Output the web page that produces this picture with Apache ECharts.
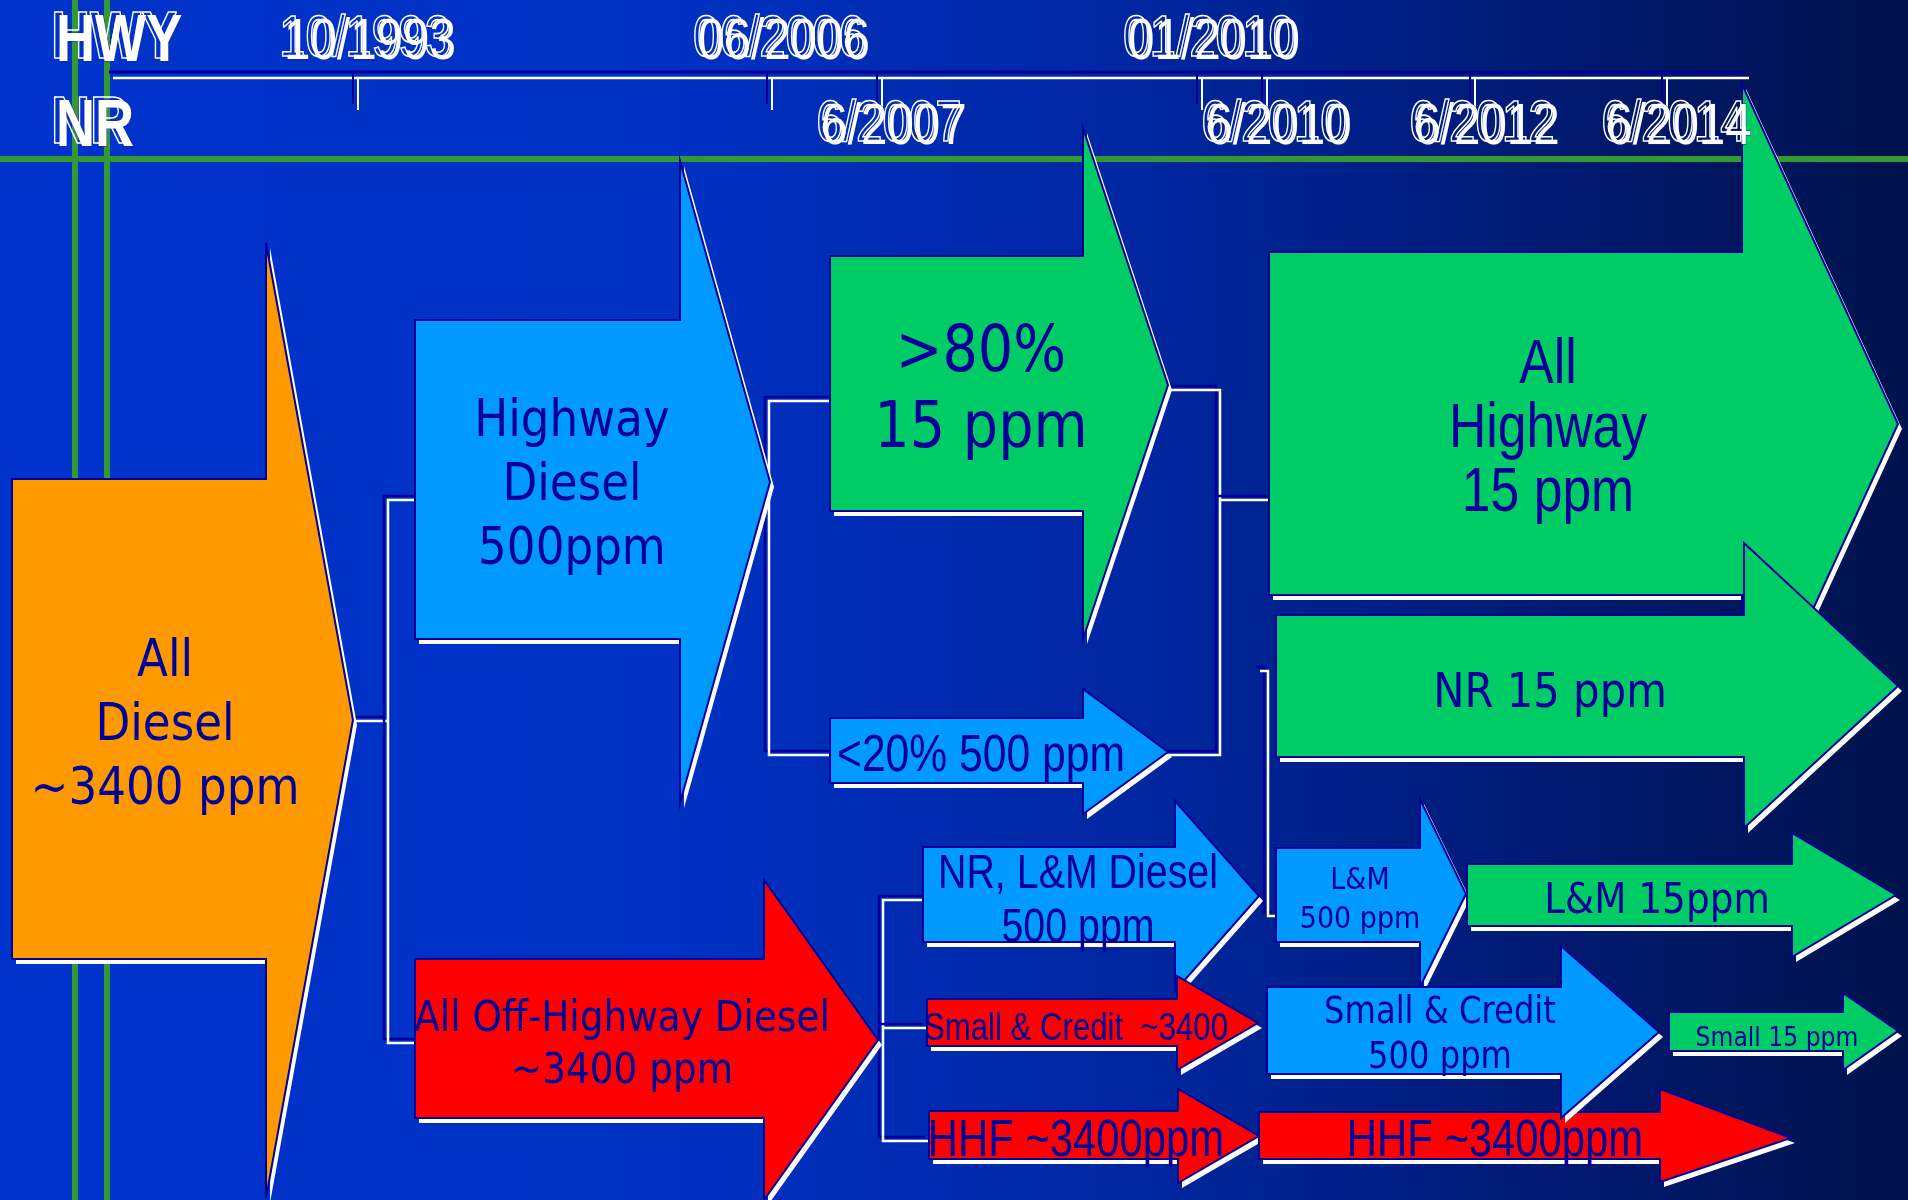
<!DOCTYPE html>
<html>
<head>
<meta charset="utf-8">
<script src="https://cdn.jsdelivr.net/npm/echarts@6/dist/echarts.min.js"></script>
<style>
  html, body { margin: 0; padding: 0; background: #0033cc; }
  #main { width: 1908px; height: 1200px; }
</style>
</head>
<body>
<div id="main"></div>
<script>
// diagram units: x runs 0..1908 left to right, y runs 0..1200 top to bottom

// timeline
const tickLabels = ['10/1993', '06/2006', '6/2007', '01/2010', '6/2010', '6/2012', '6/2014'];
const tickPos = [358, 772, 882, 1202, 1267, 1475, 1667];
const tickRow = [0, 0, 1, 0, 1, 1, 1];           // 0 = HWY row, 1 = NR row
const rowNames = ['HWY', 'NR'];
const timelineFrom = 113;
const timelineTo = 1749;

// arrows (sulfur level decides the colour)
const arrowText = [
  'All\nDiesel\n~3400 ppm',
  'Highway\nDiesel\n500ppm',
  'All Off-Highway Diesel\n~3400 ppm',
  '>80%\n15 ppm',
  '<20% 500 ppm',
  'All\nHighway\n15 ppm',
  'NR 15 ppm',
  'NR, L&M Diesel\n500 ppm',
  'L&M\n500 ppm',
  'L&M 15ppm',
  'HHF ~3400ppm',
  'HHF ~3400ppm',
  'Small & Credit  ~3400',
  'Small & Credit\n500 ppm',
  'Small 15 ppm'
];
const arrowLevel = ['all', '500', 'off', '15', '500', '15', '15', '500', '500', '15', 'off', 'off', 'off', '500', '15'];
const arrowStart = [12, 415, 415, 830, 830, 1269, 1276, 923, 1276, 1467, 929, 1259, 927, 1267, 1669];
const arrowNeck  = [266, 680, 764, 1083, 1083, 1742, 1744, 1175, 1420, 1792, 1178, 1660, 1177, 1561, 1843];
const arrowTip   = [353, 770, 878, 1168, 1168, 1898, 1898, 1259, 1466, 1896, 1259, 1791, 1258, 1659, 1898];
const bodyTop    = [479, 320, 959, 256, 718, 252, 615, 847, 848, 864, 1111, 1112, 999, 987, 1012];
const bodyBottom = [959, 639, 1118, 511, 783, 595, 757, 942, 942, 926, 1159, 1159, 1046, 1074, 1051];
const headTop    = [243, 161, 880, 128, 689, 84, 543, 801, 799, 833, 1089, 1089, 976, 946, 993];
const headBottom = [1198, 803, 1200, 639, 814, 764, 828, 991, 987, 957, 1183, 1182, 1070, 1118, 1070];
const tipY       = [720, 482, 1040, 385, 752, 424, 686, 896, 894, 895, 1136, 1138, 1023, 1032, 1031];

// bracket connectors between arrows
const connectors = [
  [[353, 721], [388, 721]],
  [[419, 500], [388, 500], [388, 1043], [419, 1043]],
  [[834, 401], [769, 401], [769, 755], [834, 755]],
  [[1168, 390], [1220, 390], [1220, 755], [1168, 755]],
  [[1220, 500], [1271, 500]],
  [[1260, 671], [1268, 671], [1268, 916], [1276, 916]],
  [[928, 900], [883, 900], [883, 1141], [929, 1141]],
  [[883, 1028], [927, 1028]]
];

// green guide lines
const guideVertical = [75, 107];
const guideHorizontal = [159];

// ---- styles ----
const levelColor = { all: '#ff9900', '500': '#0099ff', '15': '#00cc66', off: '#ff0000' };
const faces = {
  wide: { family: '"DejaVu Sans"', scale: 0.87 },
  narrow: { family: '"Liberation Sans"', scale: 0.82 }
};
const labelLayout = [
  { x: 165, y: 726, size: 52, lh: 64, face: 'wide' },
  { x: 572, y: 486, size: 52, lh: 64, face: 'wide' },
  { x: 622, y: 1046, size: 43, lh: 52, face: 'wide' },
  { x: 981, y: 392, size: 64, lh: 76, face: 'wide' },
  { x: 981, y: 757, size: 52, lh: 60, face: 'narrow' },
  { x: 1548, y: 430, size: 63, lh: 64, face: 'narrow' },
  { x: 1550, y: 695, size: 48, lh: 56, face: 'wide' },
  { x: 1078, y: 902, size: 48, lh: 54, face: 'narrow' },
  { x: 1360, y: 900, size: 31, lh: 39, face: 'wide' },
  { x: 1657, y: 902, size: 43, lh: 50, face: 'wide' },
  { x: 1076, y: 1142, size: 51, lh: 56, face: 'narrow' },
  { x: 1495, y: 1142, size: 51, lh: 56, face: 'narrow' },
  { x: 1076, y: 1030, size: 38, lh: 44, face: 'narrow' },
  { x: 1440, y: 1036, size: 37, lh: 45, face: 'wide' },
  { x: 1777, y: 1039, size: 27, lh: 32, face: 'wide' }
];
const drawOrder = [0, 1, 2, 3, 4, 5, 6, 7, 8, 9, 10, 11, 12, 13, 14];
const textColor = '#000099';
const edgeColor = '#000099';
const green = '#339933';

const chart = echarts.init(document.getElementById('main'));

function guideItem(params, api) {
  const i = params.dataIndex;
  let a, b;
  if (i < guideVertical.length) {
    a = api.coord([guideVertical[i], 0]);
    b = api.coord([guideVertical[i], 1200]);
  } else {
    const y = guideHorizontal[i - guideVertical.length];
    a = api.coord([0, y]);
    b = api.coord([1908, y]);
  }
  return { type: 'line', shape: { x1: a[0], y1: a[1], x2: b[0], y2: b[1] }, style: { stroke: green, lineWidth: 6 } };
}

function timelineItem(params, api) {
  const l0 = api.coord([timelineFrom, 78]);
  const l1 = api.coord([timelineTo, 78]);
  const children = [
    { type: 'line', shape: { x1: l0[0] - 4, y1: l0[1] - 6, x2: l1[0] - 6, y2: l1[1] - 6 }, style: { stroke: '#000099', lineWidth: 3 } },
    { type: 'line', shape: { x1: l0[0], y1: l0[1], x2: l1[0], y2: l1[1] }, style: { stroke: '#ffffff', lineWidth: 2.5 } }
  ];
  tickPos.forEach(function (t) {
    const a = api.coord([t, 78]);
    const b = api.coord([t, 110]);
    children.push({ type: 'line', shape: { x1: a[0] - 5, y1: a[1] - 6, x2: b[0] - 5, y2: b[1] - 6 }, style: { stroke: '#000099', lineWidth: 2 } });
    children.push({ type: 'line', shape: { x1: a[0], y1: a[1], x2: b[0], y2: b[1] }, style: { stroke: '#ffffff', lineWidth: 2 } });
  });
  return { type: 'group', children: children };
}

function headingText(str, p, size, bold, align) {
  const font = (bold ? 'bold ' : '') + size + 'px "Liberation Sans"';
  return [
    { type: 'text', x: p[0], y: p[1], scaleX: 0.82,
      style: { text: str, font: font, fill: '#ffffff', stroke: '#0a2aa8', lineWidth: 1, align: align, verticalAlign: 'middle' } },
    { type: 'text', x: p[0] - 5, y: p[1] - 3, scaleX: 0.82,
      style: { text: str, font: font, fill: 'rgba(0,0,0,0)', stroke: '#ffffff', lineWidth: 1.6, align: align, verticalAlign: 'middle' } }
  ];
}

function headingItem(params, api) {
  let children = [];
  rowNames.forEach(function (name, r) {
    const p = api.coord([56, r === 0 ? 43 : 128]);
    children = children.concat(headingText(name, p, 66, true, 'left'));
  });
  tickLabels.forEach(function (lab, i) {
    const p = api.coord([tickPos[i] + 12, tickRow[i] === 0 ? 43 : 128]);
    children = children.concat(headingText(lab, p, 58, false, 'center'));
  });
  return { type: 'group', children: children };
}

function connectorItem(params, api) {
  const pts = connectors[params.dataIndex].map(function (q) { return api.coord(q); });
  const shadow = pts.map(function (p) { return [p[0] - 4, p[1] - 4]; });
  return {
    type: 'group',
    children: [
      { type: 'polyline', shape: { points: shadow }, style: { stroke: '#000099', lineWidth: 2.5, fill: null } },
      { type: 'polyline', shape: { points: pts }, style: { stroke: '#ffffff', lineWidth: 2.5, fill: null } }
    ]
  };
}

function arrowItem(params, api) {
  const i = drawOrder[params.dataIndex];
  const corners = [
    [arrowStart[i], bodyTop[i]], [arrowNeck[i], bodyTop[i]], [arrowNeck[i], headTop[i]],
    [arrowTip[i], tipY[i]],
    [arrowNeck[i], headBottom[i]], [arrowNeck[i], bodyBottom[i]], [arrowStart[i], bodyBottom[i]]
  ];
  const pts = corners.map(function (q) { return api.coord(q); });
  const shadow = pts.map(function (p) { return [p[0] + 4, p[1] + 5]; });
  return {
    type: 'group',
    children: [
      { type: 'polygon', shape: { points: shadow }, style: { fill: '#ffffff' } },
      { type: 'polygon', shape: { points: pts }, style: { fill: levelColor[arrowLevel[i]], stroke: edgeColor, lineWidth: 2 } }
    ]
  };
}

function labelItem(params, api) {
  const i = params.dataIndex;
  const L = labelLayout[i];
  const f = faces[L.face];
  const p = api.coord([L.x, L.y]);
  return {
    type: 'text', x: p[0], y: p[1], scaleX: f.scale,
    style: {
      text: arrowText[i], font: L.size + 'px ' + f.family, lineHeight: L.lh,
      fill: textColor, align: 'center', verticalAlign: 'middle'
    }
  };
}

const option = {
  animation: false,
  backgroundColor: {
    type: 'linear', x: 0, y: 0, x2: 1, y2: 0,
    colorStops: [
      { offset: 0, color: '#0033cc' },
      { offset: 0.35, color: '#0031c4' },
      { offset: 0.6, color: '#0026a0' },
      { offset: 0.85, color: '#00186a' },
      { offset: 1, color: '#00124c' }
    ]
  },
  grid: { left: 0, right: 0, top: 0, bottom: 0 },
  xAxis: { type: 'value', min: 0, max: 1908, show: false },
  yAxis: { type: 'value', min: 0, max: 1200, inverse: true, show: false },
  series: [
    { type: 'custom', renderItem: guideItem, data: guideVertical.concat(guideHorizontal).map(function (v) { return [v]; }), silent: true },
    { type: 'custom', renderItem: timelineItem, data: [[0]], silent: true },
    { type: 'custom', renderItem: connectorItem, data: connectors.map(function (c, i) { return [i]; }), silent: true },
    { type: 'custom', renderItem: arrowItem, data: drawOrder.map(function (i) { return [arrowStart[i], arrowTip[i]]; }), silent: true },
    { type: 'custom', renderItem: labelItem, data: arrowText.map(function (t, i) { return [i]; }), silent: true },
    { type: 'custom', renderItem: headingItem, data: [[0]], silent: true }
  ]
};
chart.setOption(option);
</script>
</body>
</html>
